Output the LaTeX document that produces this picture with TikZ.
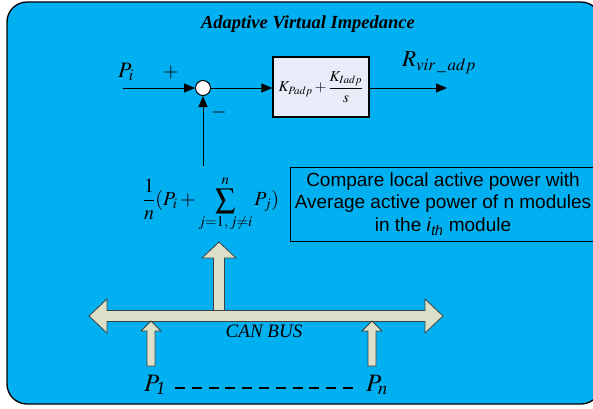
\documentclass[tikz,border=0pt]{standalone}
\usepackage{amsmath}
\usepackage{mathptmx}
\usepackage[no-math]{fontspec}
\setmainfont{Liberation Serif}
\newfontfamily\arialfont{Liberation Sans}
\usetikzlibrary{arrows.meta}
\definecolor{panelblue}{RGB}{0,176,240}
\definecolor{busfill}{RGB}{221,224,200}
\definecolor{blockfill}{RGB}{232,236,248}
\tikzset{
  sig/.style={-{Triangle[length=11pt,width=9pt]},line width=1pt},
  sumnode/.style={circle,draw,fill=white,line width=1pt,minimum size=15pt,inner sep=0pt},
  ctrlblock/.style={draw,fill=blockfill,line width=1.2pt,minimum width=96pt,minimum height=60pt,inner sep=1pt},
  notebox/.style={draw,line width=1pt,minimum width=306pt,minimum height=74pt,inner sep=0pt,align=center,
    font=\arialfont\fontsize{19}{22.5}\selectfont},
  blockarrow/.style={draw=black!75,fill=busfill,line width=.8pt},
  pics/fatup/.style n args={4}{code={
    \draw[blockarrow] (-#1,0) -- (-#1,-#4+#3) -- (-#2,-#4+#3) -- (0,-#4)
      -- (#2,-#4+#3) -- (#1,-#4+#3) -- (#1,0) -- cycle;}}
}
\begin{document}
\begin{tikzpicture}[x=1pt,y=-1pt]
  \useasboundingbox (0,0) rectangle (593,408);
  \draw[rounded corners=20pt,fill=panelblue,line width=1.3pt] (7,2) rectangle (601,404);

  \node[font=\fontsize{18.5}{22}\selectfont\bfseries\itshape] (title) at (308,24) {Adaptive Virtual Impedance};

  % summing junction and controller
  \node[font=\fontsize{22}{26}\selectfont] (Pi) at (126,72) {$P_i$};
  \node[font=\fontsize{20}{24}\selectfont] (plus) at (171,72) {$+$};
  \node[sumnode] (sum) at (203,88) {};
  \node[font=\fontsize{20}{24}\selectfont] (minus) at (219,112) {$-$};
  \node[ctrlblock] (ctrl) at (321,87) {\fontsize{15}{18}\selectfont$K_{Padp}+\dfrac{K_{Iadp}}{s}$};
  \node[font=\fontsize{23}{27}\selectfont] (R) at (439,63) {$R_{vir\,\_\,adp}$};
  \coordinate (in) at (123,88);
  \coordinate (out) at (447,88);
  \coordinate (fb) at (203,166);

  \draw[sig] (in) to (sum); \draw[sig] (sum) to (sum -| ctrl.west); \draw[sig] (ctrl.east |- sum) to (out);
  \draw[sig] (fb) to (sum);

  % average of the modules
  \node[font=\fontsize{20}{24}\selectfont] (avg) at (211,204) {$\displaystyle\frac{1}{n}(P_i+\sum_{j=1,\,j\neq i}^{n}P_j)$};
  \node[notebox] (note) at (443,204) {Compare local active power with\\Average active power of n modules\\in the \textit{i}\textsubscript{\textit{th}} module};

  % CAN bus
  \pic at (219,311) {fatup={5.5}{17}{16}{69}};
  \draw[blockarrow] (89,316) -- (107,299) -- (107,310.5) -- (425,310.5) -- (425,299) -- (443,316)
    -- (425,333) -- (425,321.5) -- (107,321.5) -- (107,333) -- cycle;
  \pic at (151,366) {fatup={4}{10}{10}{45}};
  \pic at (372,366) {fatup={4}{10}{10}{45}};
  \node[font=\fontsize{19}{22}\selectfont\itshape] (can) at (264,331) {CAN BUS};

  \node[font=\fontsize{25}{30}\selectfont] (P1) at (155,385) {$P_{\textit{1}}$};
  \node[font=\fontsize{25}{30}\selectfont] (Pn) at (377,385) {$P_n$};
  \coordinate (dashL) at (175,388);
  \coordinate (dashR) at (353,388);
  \draw[line width=1.2pt,dash pattern=on 10pt off 6.8pt] (dashL) to (dashR);
\end{tikzpicture}
\end{document}
